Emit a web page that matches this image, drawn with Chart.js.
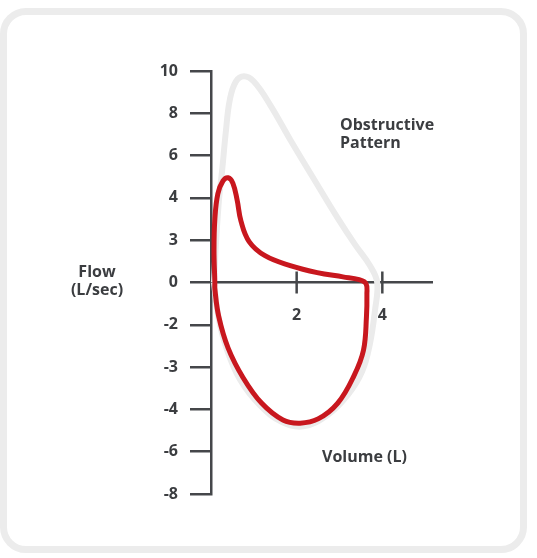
<!DOCTYPE html>
<html>
<head>
<meta charset="utf-8">
<script src="https://cdn.jsdelivr.net/npm/chart.js@4.4.1/dist/chart.umd.min.js"></script>
<style>
  html, body { margin: 0; padding: 0; background: #fff; }
  #card {
    position: absolute; left: 0; top: 8px;
    width: 513px; height: 531px;
    border: 7px solid #ececec; border-radius: 26px;
  }
  canvas { position: absolute; left: 0; top: 0; }
</style>
</head>
<body>
<div id="card"></div>
<canvas id="loop" width="537" height="558"></canvas>
<script>
// tick labels, top to bottom (the axis spaces them evenly)
const flowTicks = [10, 8, 6, 4, 3, 0, -2, -3, -4, -6, -8];
const volumeTicks = [2, 4];

// obstructive loop (red), volume in L
const obstructiveVolume = [0.09, 0.07, 0.09, 0.16, 0.28, 0.40, 0.51, 0.61, 0.70, 0.89, 1.26, 1.85, 2.48, 3.08, 3.46, 3.62,
                           3.64, 3.63, 3.56, 3.34, 2.96, 2.50, 2.08, 1.68, 1.18, 0.75, 0.40, 0.18, 0.09, 0.09];
// flow in L/sec
const obstructiveFlow = [0, 2.3, 3.5, 4.2, 4.8, 4.95, 4.7, 3.95, 3.45, 2.9, 1.9, 1.2, 0.7, 0.4, 0.2, -0.05,
                         -0.55, -1.6, -2.6, -3.2, -3.85, -4.45, -4.65, -4.5, -3.85, -3.25, -2.55, -1.6, -0.3, 0];

// normal loop (grey)
const normalVolume = [0.07, 0.12, 0.19, 0.26, 0.35, 0.44, 0.58, 0.77, 1.00, 1.38, 1.85, 2.43, 2.94, 3.36, 3.71, 3.88,
                      3.83, 3.71, 3.53, 3.20, 2.73, 2.15, 1.66, 1.14, 0.68, 0.36, 0.17, 0.07];
const normalFlow = [0, 3.0, 4.0, 5.3, 7.2, 8.65, 9.5, 9.75, 9.5, 8.4, 6.75, 4.8, 3.55, 2.7, 1.2, 0,
                    -1.3, -2.45, -3.1, -3.65, -4.25, -4.8, -4.6, -3.9, -3.3, -2.55, -1.6, 0];

const textColor = '#3b3d40';
const axisColor = '#45474a';
const fontFamily = '"Open Sans", Lato, sans-serif';

// flow value -> position on the evenly spaced axis (+5 top, -5 bottom)
function flowToPos(f) {
    for (let i = 0; i < flowTicks.length - 1; i++) {
        const hi = flowTicks[i], lo = flowTicks[i + 1];
        if (f <= hi && f >= lo) return (5 - i) - (hi - f) / (hi - lo);
    }
    return f > 0 ? 5 : -5;
}

function toPoints(xs, ys) {
    return xs.map((x, i) => ({ x: x, y: flowToPos(ys[i]) }));
}

// labels and the crossing x ticks
const extras = {
    id: 'extras',
    afterDraw(chart) {
        const ctx = chart.ctx;
        const xs = chart.scales.x, ys = chart.scales.y;
        const y0 = ys.getPixelForValue(0);

        ctx.save();
        ctx.strokeStyle = axisColor;
        ctx.lineWidth = 2.5;
        volumeTicks.forEach(v => {
            const px = xs.getPixelForValue(v);
            ctx.beginPath();
            ctx.moveTo(px, y0 - 11);
            ctx.lineTo(px, y0 + 11);
            ctx.stroke();
        });

        ctx.fillStyle = textColor;
        ctx.font = 'bold 16px ' + fontFamily;
        ctx.textBaseline = 'middle';
        ctx.textAlign = 'center';
        ctx.fillText('Flow', 97, 272);
        ctx.fillText('(L/sec)', 97, 290);
        ctx.textAlign = 'left';
        ctx.fillText('Obstructive', 340, 125);
        ctx.fillText('Pattern', 340, 143);
        ctx.fillText('Volume (L)', 322, 457);
        ctx.restore();
    }
};

new Chart(document.getElementById('loop'), {
    type: 'scatter',
    data: {
        datasets: [{
            label: 'Obstructive',
            data: toPoints(obstructiveVolume, obstructiveFlow),
            showLine: true,
            borderColor: '#c8171e',
            borderWidth: 5,
            tension: 0.4,
            pointRadius: 0,
            order: 0
        }, {
            label: 'Normal',
            data: toPoints(normalVolume, normalFlow),
            showLine: true,
            borderColor: '#ebebeb',
            borderWidth: 6,
            tension: 0.4,
            pointRadius: 0,
            order: 1
        }]
    },
    options: {
        responsive: false,
        animation: false,
        devicePixelRatio: 1,
        layout: { padding: { top: 71, right: 105, bottom: 64, left: 0 } },
        plugins: { legend: { display: false }, tooltip: { enabled: false } },
        scales: {
            x: {
                type: 'linear',
                position: { y: 0 },
                min: 0,
                max: 5.16,
                afterBuildTicks: s => { s.ticks = volumeTicks.map(v => ({ value: v })); },
                grid: { display: false },
                border: { display: true, color: axisColor, width: 2.5 },
                ticks: { padding: 15, color: textColor, font: { family: fontFamily, size: 16, weight: 'bold' } }
            },
            y: {
                type: 'linear',
                min: -5,
                max: 5,
                afterBuildTicks: s => { s.ticks = flowTicks.map((v, i) => ({ value: 5 - i })); },
                afterFit: s => { s.width = 211; },
                grid: { drawOnChartArea: false, drawTicks: true, tickLength: 21, tickColor: axisColor, lineWidth: 2.5 },
                border: { display: true, color: axisColor, width: 2.5 },
                ticks: {
                    padding: 12,
                    color: textColor,
                    font: { family: fontFamily, size: 16, weight: 'bold' },
                    callback: v => flowTicks[5 - Math.round(v)]
                }
            }
        }
    },
    plugins: [extras]
});
</script>
</body>
</html>
